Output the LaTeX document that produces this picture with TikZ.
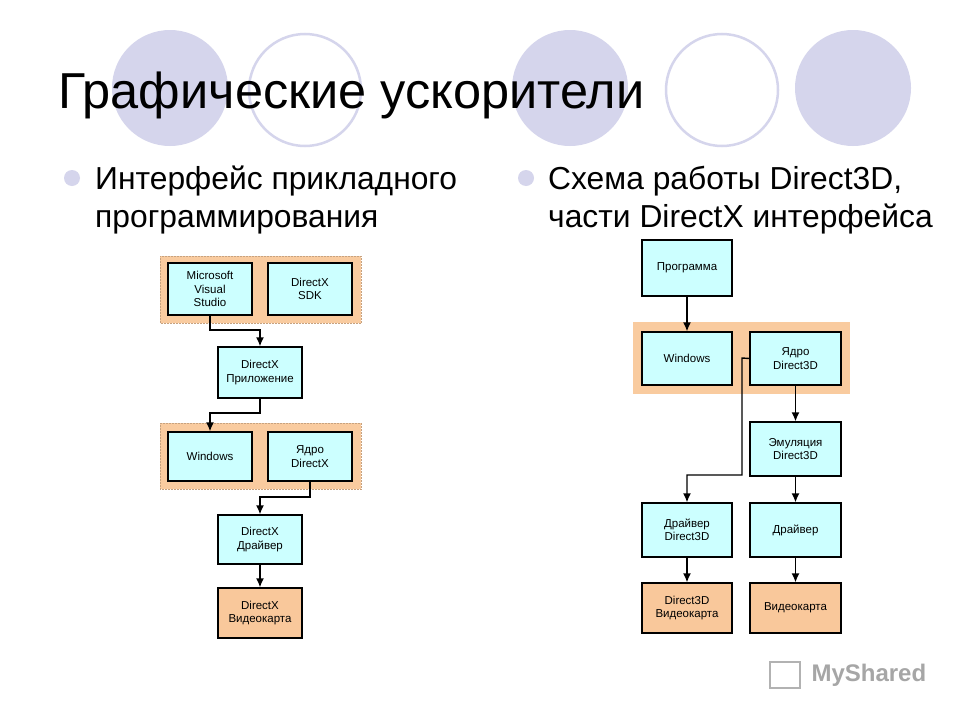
\documentclass[tikz,border=0pt]{standalone}
\usepackage{fontspec}
\setmainfont{Liberation Sans}
\usetikzlibrary{arrows.meta}
\definecolor{lav}{HTML}{D5D5EC}
\definecolor{cyanbox}{HTML}{CCFFFF}
\definecolor{orbox}{HTML}{F9C89B}
\definecolor{grp}{HTML}{F9CB9F}
\begin{document}
\begin{tikzpicture}[x=1pt,y=-1pt,
  bx/.style={draw=black,line width=1.3pt,fill=cyanbox,align=center,font=\fontsize{11.5}{13.5}\selectfont,inner sep=0pt},
  ob/.style={bx,fill=orbox},
  gp/.style={fill=grp,draw=grp!80!black,densely dotted,line width=0.5pt},
  bt/.style={anchor=base west,inner sep=0,font=\fontsize{31.8}{38}\selectfont},
  ar/.style={line width=1.4pt,-{Latex[length=9pt,width=8pt]}}]
\useasboundingbox (0,0) rectangle (960,720);
\fill[white] (0,0) rectangle (960,720);
% decorative circles
\foreach \cx in {170,570,853} \fill[lav] (\cx,88) circle (58);
\foreach \cx in {305,722} \draw[lav,line width=2.5pt] (\cx,90) circle (56);
\node[anchor=base west,inner sep=0,font=\fontsize{50.5}{54}\selectfont] (title) at (58,108) {Графические ускорители};
% bullets
\fill[lav] (72,178) circle (8); \fill[lav] (526,178) circle (8);
\node[bt] (b1a) at (95,189) {Интерфейс прикладного};
\node[bt] (b1b) at (95,227) {программирования};
\node[bt] (b2a) at (548,189) {Схема работы Direct3D,};
\node[bt] (b2b) at (548,227) {части DirectX интерфейса};
% left diagram
\filldraw[gp] (160,256) rectangle (361,323);
\filldraw[gp] (160,423) rectangle (361,489);
\node[bx,minimum width=84,minimum height=52] (ms) at (210,289) {Microsoft\\Visual\\Studio};
\node[bx,minimum width=84,minimum height=52] (sdk) at (310,289) {DirectX\\SDK};
\node[bx,minimum width=84,minimum height=51] (app) at (260,372.5) {DirectX\\Приложение};
\node[bx,minimum width=84,minimum height=49] (win) at (210,456.5) {Windows};
\node[bx,minimum width=84,minimum height=49] (core) at (310,456.5) {Ядро\\DirectX};
\node[bx,minimum width=84,minimum height=49] (drv) at (260,539.5) {DirectX\\Драйвер};
\node[ob,minimum width=84,minimum height=50] (vc) at (260,613) {DirectX\\Видеокарта};
\draw[ar] (ms.south) |- (260,330) -- (app.north);
\draw[ar] (app.south) |- (210,413) -- (win.north);
\draw[ar] (core.south) |- (260,497) -- (drv.north);
\draw[ar] (drv) -- (vc);
% right diagram
\filldraw[gp,draw=none] (633,322) rectangle (850,394);
\node[bx,minimum width=90,minimum height=56] (prog) at (687,268) {Программа};
\node[bx,minimum width=90,minimum height=53] (rwin) at (687,358.5) {Windows};
\node[bx,minimum width=91,minimum height=53] (rcore) at (795.5,358.5) {Ядро\\Direct3D};
\node[bx,minimum width=91,minimum height=54] (emu) at (795.5,449) {Эмуляция\\Direct3D};
\node[bx,minimum width=90,minimum height=54] (rdrv1) at (687,530) {Драйвер\\Direct3D};
\node[bx,minimum width=91,minimum height=54] (rdrv2) at (795.5,530) {Драйвер};
\node[ob,minimum width=90,minimum height=50] (rvc1) at (687,608) {Direct3D\\Видеокарта};
\node[ob,minimum width=91,minimum height=50] (rvc2) at (795.5,608) {Видеокарта};
\draw[ar] (prog) -- (rwin);
\draw[ar] (rcore) -- (emu);
\draw[ar] (rcore.west) -- (742,358) |- (687,475) -- (rdrv1.north);
\draw[ar] (emu) -- (rdrv2);
\draw[ar] (rdrv1) -- (rvc1);
\draw[ar] (rdrv2) -- (rvc2);
% watermark
\node[anchor=west,text=gray!70,font=\fontsize{24}{24}\selectfont\bfseries] (wm) at (808,675) {MyShared};
\draw[gray!60,line width=2pt] (770,662) rectangle (800,688);
\end{tikzpicture}
\end{document}
